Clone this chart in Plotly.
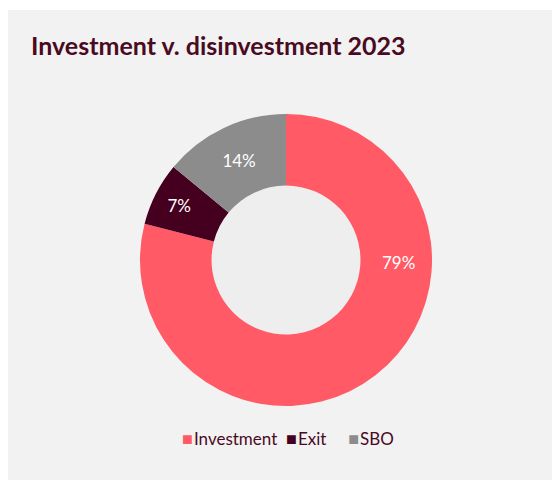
import plotly.graph_objects as go

categories = ["Investment", "Exit", "SBO"]
values = [79, 7, 14]
colors = ["#ff5a65", "#45001f", "#8c8c8c"]

OFF = 8  # page body margin
W, H = 560 - OFF, 487 - OFF

def px(x):
    return (x - OFF) / W

def py(y):
    return 1 - (y - OFF) / H

fig = go.Figure(go.Pie(
    labels=categories,
    values=values,
    hole=0.51,
    sort=False,
    direction="clockwise",
    rotation=0,
    marker=dict(colors=colors, line=dict(width=0)),
    texttemplate=[" ", "%{percent:.0%}", "%{percent:.0%}"],
    textposition="inside",
    insidetextorientation="horizontal",
    textfont=dict(color="white", size=17, family="Lato"),
    domain=dict(x=[px(140), px(432)], y=[py(406), py(114)]),
    hoverinfo="label+percent",
    showlegend=False,
))

gaps = ["&#160;&#160;", "&#160;&#160;&#160;&#160;&#160;", ""]
legend_text = "".join(
    f'<span style="color:{c};font-size:18px">■</span>&#8202;{n}{g}'
    for n, c, g in zip(categories, colors, gaps)
)

fig.update_layout(
    width=W, height=H,
    margin=dict(l=0, r=0, t=0, b=0),
    paper_bgcolor="white",
    plot_bgcolor="white",
    font=dict(family="Lato", color="#4a0a1f"),
    title=dict(
        text="<b>Investment v. disinvestment 2023</b>",
        x=px(31), xanchor="left", xref="paper",
        y=py(46), yanchor="middle", yref="paper",
        font=dict(size=25, color="#4a0a1f", family="Lato"),
    ),
    annotations=[
        dict(text=f"{values[0]}%", x=px(398), y=py(262), xref="paper", yref="paper",
             xanchor="center", yanchor="middle",
             showarrow=False, font=dict(color="white", size=17, family="Lato")),
        dict(text=legend_text, x=px(288), y=py(438), xref="paper", yref="paper",
             xanchor="center", yanchor="middle", showarrow=False,
             font=dict(size=17, color="#4a0a1f", family="Lato")),
    ],
    shapes=[
        dict(type="rect", xref="paper", yref="paper",
             x0=px(6), x1=px(560), y0=py(480), y1=py(10),
             fillcolor="#f2f2f2", line=dict(width=0), layer="below"),
        dict(type="circle", xref="paper", yref="paper",
             x0=px(211), x1=px(361), y0=py(335), y1=py(185),
             fillcolor="#eeeeee", line=dict(width=0), layer="below"),
    ],
)

fig.write_html("out.html")
